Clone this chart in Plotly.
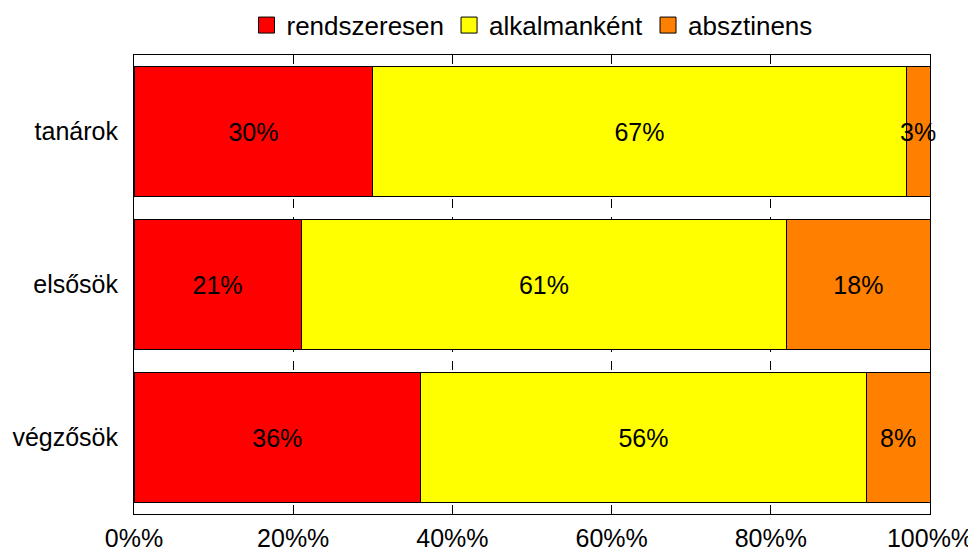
import plotly.graph_objects as go

categories = ["tanárok", "elsősök", "végzősök"]
series_names = ["rendszeresen", "alkalmanként", "absztinens"]
rendszeresen = [30, 21, 36]
alkalmankent = [67, 61, 56]
absztinens = [3, 18, 8]
colors = ["#ff0000", "#ffff00", "#ff8000"]
tick_vals = [0, 20, 40, 60, 80, 100]
tick_labels = ["0%%", "20%%", "40%%", "60%%", "80%%", "100%%"]

FONT = "Liberation Sans, Arial, sans-serif"

fig = go.Figure()
for name, vals, col in zip(series_names, [rendszeresen, alkalmankent, absztinens], colors):
    fig.add_trace(go.Bar(
        y=categories, x=vals, name=name, orientation="h", showlegend=False,
        marker=dict(color=col, line=dict(color="black", width=1)),
        text=[f"{v}%" for v in vals], textposition="inside",
        insidetextanchor="middle", textangle=0, constraintext="none",
        textfont=dict(family=FONT, size=25, color="black"),
        cliponaxis=False, width=0.847,
    ))
    # legend entry with a large square swatch
    fig.add_trace(go.Scatter(
        x=[None], y=[None], mode="markers", name=name, showlegend=True,
        marker=dict(symbol="square", size=24, color=col, line=dict(color="black", width=1)),
        hoverinfo="skip",
    ))

fig.update_layout(
    barmode="stack",
    width=976, height=551,
    margin=dict(l=126, r=54, t=47, b=45, autoexpand=False),
    paper_bgcolor="white", plot_bgcolor="white",
    font=dict(family=FONT, size=25, color="black"),
    showlegend=True,
    legend=dict(orientation="h", xref="paper", x=0.5, xanchor="center",
                yref="paper", y=1.065, yanchor="middle",
                bgcolor="rgba(0,0,0,0)",
                font=dict(family=FONT, size=26), traceorder="normal",
                itemwidth=30, tracegroupgap=0),
    xaxis=dict(range=[0, 100], tickvals=tick_vals, ticktext=tick_labels,
               showgrid=True, gridcolor="black", griddash="dash", gridwidth=1,
               showline=True, linecolor="black", linewidth=1, mirror=True,
               ticks="", zeroline=False, automargin=False, ticklabelstandoff=2,
               tickfont=dict(family=FONT, size=25)),
    yaxis=dict(categoryorder="array", categoryarray=categories, autorange="reversed",
               showline=True, linecolor="black", linewidth=1, mirror=True,
               ticks="", showgrid=False, automargin=False, ticklabelstandoff=10,
               tickfont=dict(family=FONT, size=25)),
)

fig.write_html("out.html")
